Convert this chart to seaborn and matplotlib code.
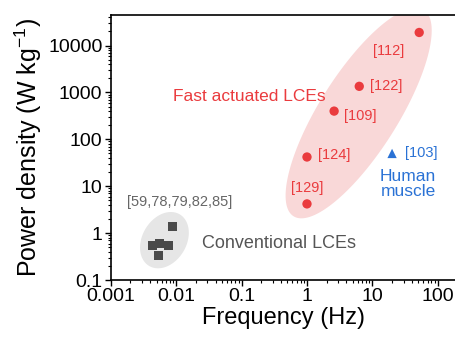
import numpy as np
import pandas as pd
import matplotlib
matplotlib.use('Agg')
import matplotlib.pyplot as plt
import seaborn as sns

# data
fast_freq = [52, 6.3, 2.6, 1.0, 1.0]
fast_power = [19000, 1350, 400, 42, 4.2]
fast_refs = ['[112]', '[122]', '[109]', '[124]', '[129]']

conv_freq = [0.0087, 0.0043, 0.0056, 0.0076, 0.0054]
conv_power = [1.4, 0.55, 0.6, 0.55, 0.33]

muscle_freq = [20]
muscle_power = [50]

sns.set_style('ticks')
plt.rcParams['font.family'] = ['Liberation Sans', 'DejaVu Sans']
plt.rcParams['mathtext.fontset'] = 'custom'
plt.rcParams['mathtext.rm'] = 'Liberation Sans'
plt.rcParams['mathtext.it'] = 'Liberation Sans:italic'
plt.rcParams['text.color'] = 'black'
plt.rcParams['axes.labelcolor'] = 'black'
plt.rcParams['xtick.color'] = 'black'
plt.rcParams['ytick.color'] = 'black'

red = '#ea3b3e'
blue = '#2a72d5'
grey_mark = '#4a4a4a'

fig = plt.figure(figsize=(4.56, 3.39), dpi=100)
ax = fig.add_axes([0.243, 0.174, 0.757, 0.782])
ax.set_xscale('log')
ax.set_yscale('log')
ax.set_xlim(0.001, 190)
ax.set_ylim(0.1, 45000)


def shaded_ellipse(lx, ly, a, b, angle, color):
    # ellipse drawn in log-decade space, shaped in screen pixels
    t = np.linspace(0, 2 * np.pi, 200)
    th = np.deg2rad(angle)
    rx, ry = 65.0, 47.0
    px = a * np.cos(th) * np.cos(t) - b * np.sin(th) * np.sin(t)
    py = a * np.sin(th) * np.cos(t) + b * np.cos(th) * np.sin(t)
    ax.fill(10 ** (lx + px / rx), 10 ** (ly + py / ry), color=color, lw=0, zorder=0)


shaded_ellipse(0.79, 2.56, 122, 39, 58, '#f9d8d8')
shaded_ellipse(-2.18, -0.15, 30, 22, 60, '#e6e6e6')

fast = pd.DataFrame({'freq': fast_freq, 'power': fast_power})
conv = pd.DataFrame({'freq': conv_freq, 'power': conv_power})
muscle = pd.DataFrame({'freq': muscle_freq, 'power': muscle_power})

sns.scatterplot(data=fast, x='freq', y='power', ax=ax, color=red, marker='o',
                s=45, edgecolor='none', zorder=3)
sns.scatterplot(data=conv, x='freq', y='power', ax=ax, color=grey_mark, marker='s',
                s=45, edgecolor='none', zorder=3)
sns.scatterplot(data=muscle, x='freq', y='power', ax=ax, color=blue, marker='^',
                s=45, edgecolor='none', zorder=3)

fs = 10.5
ax.text(18, 7800, '[112]', color=red, fontsize=fs, ha='center', va='center')
ax.text(9.3, 1350, '[122]', color=red, fontsize=fs, ha='left', va='center')
ax.text(3.7, 310, '[109]', color=red, fontsize=fs, ha='left', va='center')
ax.text(1.48, 46, '[124]', color=red, fontsize=fs, ha='left', va='center')
ax.text(1.0, 9, '[129]', color=red, fontsize=fs, ha='center', va='center')
ax.text(0.13, 810, 'Fast actuated LCEs', color=red, fontsize=12.5, ha='center', va='center')
ax.text(32, 50, '[103]', color=blue, fontsize=fs, ha='left', va='center')
ax.text(35, 11.2, 'Human\nmuscle', color=blue, fontsize=12.5, ha='center', va='center',
        linespacing=0.95)
ax.text(0.0112, 4.6, '[59,78,79,82,85]', color='#666666', fontsize=10.5,
        ha='center', va='center')
ax.text(0.37, 0.59, 'Conventional LCEs', color='#555555', fontsize=13,
        ha='center', va='center')

ax.set_xticks([0.001, 0.01, 0.1, 1, 10, 100])
ax.set_xticklabels(['0.001', '0.01', '0.1', '1', '10', '100'])
ax.set_yticks([0.1, 1, 10, 100, 1000, 10000])
ax.set_yticklabels(['0.1', '1', '10', '100', '1000', '10000'])
ax.tick_params(axis='both', which='major', labelsize=14, length=4, width=1,
               direction='out', pad=2)
ax.tick_params(axis='both', which='minor', length=2, width=0.8, direction='out')

ax.set_xlabel('Frequency (Hz)', fontsize=17, labelpad=1)
ax.set_ylabel('Power density (W kg$^{-1}$)', fontsize=18, labelpad=3)

for side in ['left', 'bottom', 'top']:
    ax.spines[side].set_color('black')
    ax.spines[side].set_linewidth(1.2)
ax.spines['right'].set_visible(False)

fig.savefig('out.png', dpi=100)
